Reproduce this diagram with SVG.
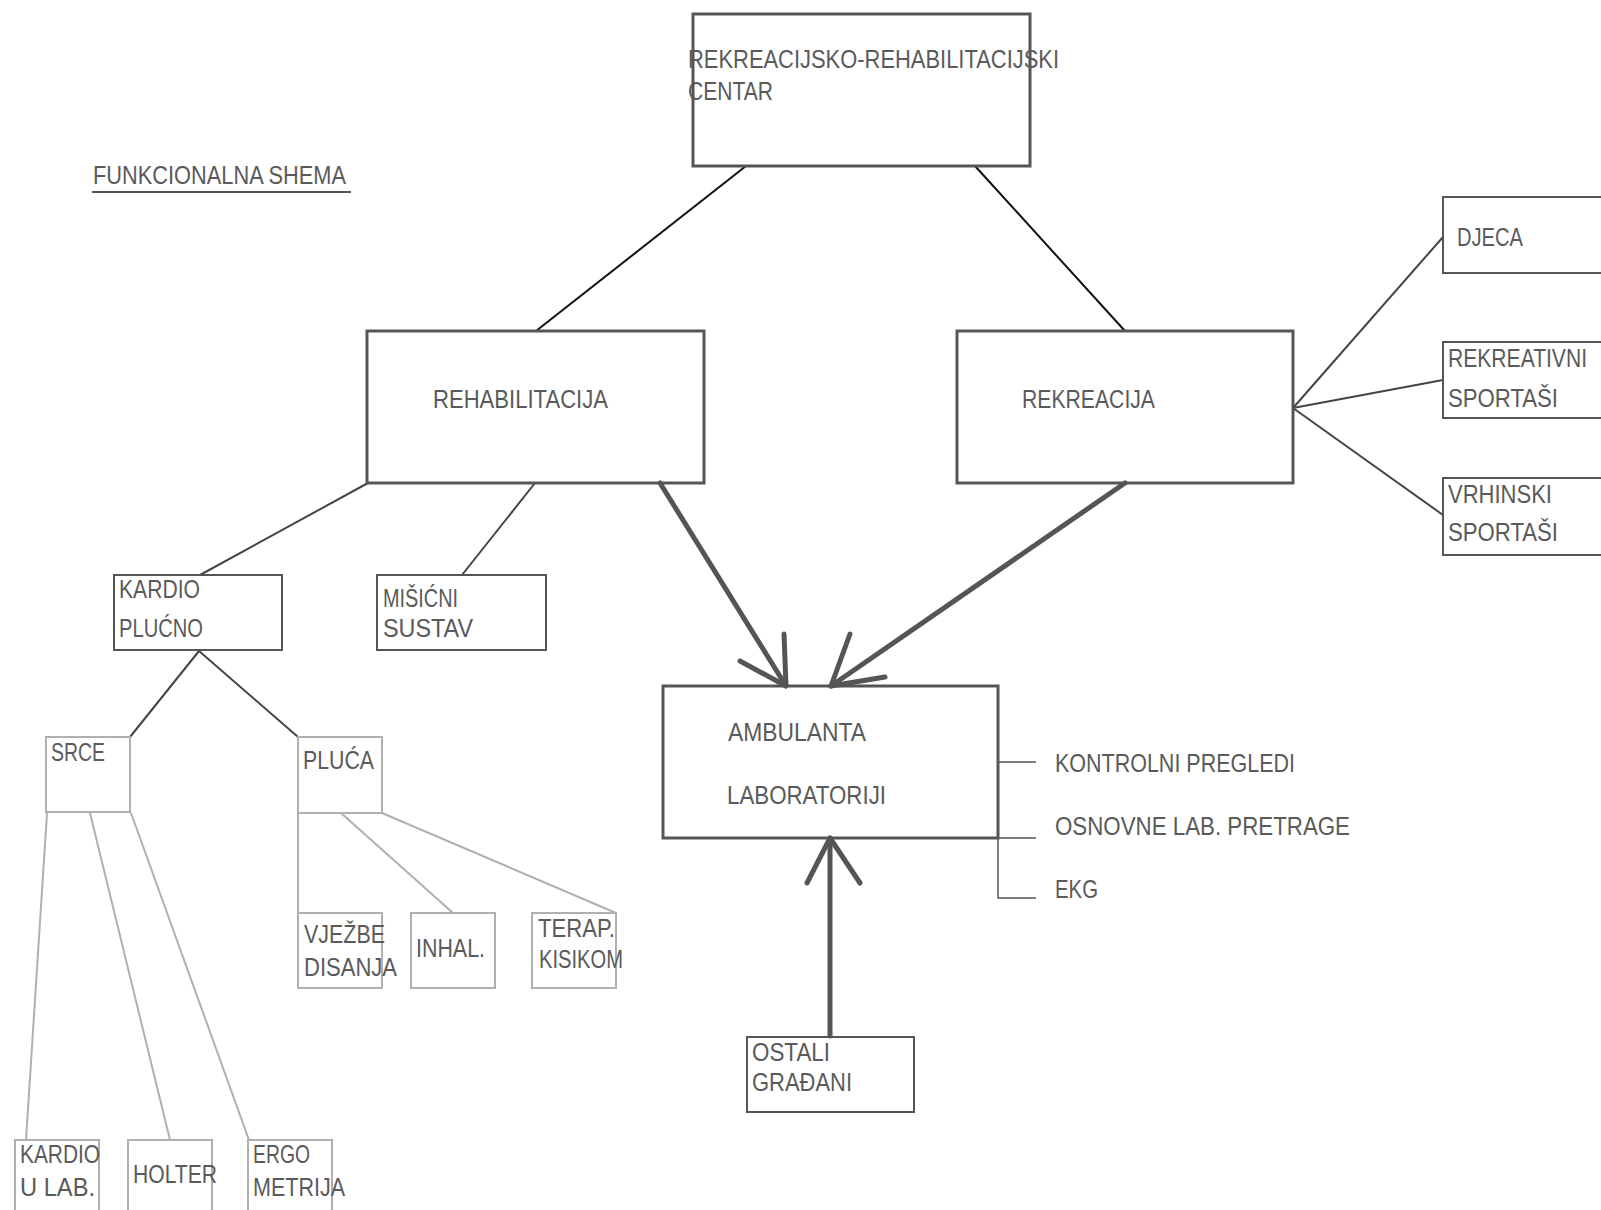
<svg xmlns="http://www.w3.org/2000/svg" width="1601" height="1210" viewBox="0 0 1601 1210">
<style>
text{font-family:"Liberation Sans",Arial,sans-serif;font-size:25px;fill:#5a5a5a}
.big{fill:none;stroke:#555;stroke-width:3}
.mid{fill:none;stroke:#555;stroke-width:2}
.light{fill:none;stroke:#b0b0b0;stroke-width:2}
.c-black{stroke:#111;stroke-width:2;fill:none}
.c-dark{stroke:#444;stroke-width:2;fill:none}
.c-grey{stroke:#b0b0b0;stroke-width:2;fill:none}
.c-thin{stroke:#555;stroke-width:1.5;fill:none}
.arrow{stroke:#555;stroke-width:5;fill:none;stroke-linecap:round;stroke-linejoin:round}
</style>
<rect width="1601" height="1210" fill="#fff"/>
<g id="connectors">
<line class="c-black" x1="746" y1="166" x2="536" y2="331"/>
<line class="c-black" x1="975" y1="166" x2="1125" y2="331"/>
<line class="c-dark" x1="1293" y1="408" x2="1443" y2="237"/>
<line class="c-dark" x1="1293" y1="408" x2="1443" y2="380"/>
<line class="c-dark" x1="1293" y1="408" x2="1443" y2="515"/>
<line class="c-dark" x1="368" y1="483" x2="200" y2="575"/>
<line class="c-dark" x1="535" y1="483" x2="462" y2="575"/>
<line class="c-dark" x1="199" y1="651" x2="130" y2="737"/>
<line class="c-dark" x1="199" y1="651" x2="298" y2="737"/>
<line class="c-grey" x1="298" y1="813" x2="298" y2="913"/>
<line class="c-grey" x1="341" y1="813" x2="453" y2="913"/>
<line class="c-grey" x1="382" y1="813" x2="616" y2="913"/>
<line class="c-grey" x1="47" y1="813" x2="26" y2="1140"/>
<line class="c-grey" x1="90" y1="813" x2="170" y2="1140"/>
<line class="c-grey" x1="131" y1="813" x2="249" y2="1140"/>
<line class="c-thin" x1="998" y1="762" x2="1036" y2="762"/>
<line class="c-thin" x1="998" y1="838" x2="1036" y2="838"/>
<polyline class="c-thin" points="998,838 998,898 1036,898"/>
<line class="arrow" x1="660" y1="483" x2="786" y2="686"/>
<polyline class="arrow" points="784,634 786,686 740,661"/>
<line class="arrow" x1="1125" y1="483" x2="831" y2="686"/>
<polyline class="arrow" points="850,634 831,686 885,677"/>
<line class="arrow" x1="830" y1="1036" x2="830" y2="838"/>
<polyline class="arrow" points="807,883 830,838 860,883"/>
</g>
<g id="title">
<text x="93" y="184" textLength="253" lengthAdjust="spacingAndGlyphs">FUNKCIONALNA SHEMA</text>
<line x1="92" y1="192" x2="351" y2="192" stroke="#555" stroke-width="2"/>
</g>
<g id="centar">
<rect class="big" x="693" y="14" width="337" height="152"/>
<text x="688" y="68" textLength="371" lengthAdjust="spacingAndGlyphs">REKREACIJSKO-REHABILITACIJSKI</text>
<text x="688" y="100" textLength="85" lengthAdjust="spacingAndGlyphs">CENTAR</text>
</g>
<g id="rehabilitacija">
<rect class="big" x="367" y="331" width="337" height="152"/>
<text x="433" y="408" textLength="175" lengthAdjust="spacingAndGlyphs">REHABILITACIJA</text>
</g>
<g id="rekreacija">
<rect class="big" x="957" y="331" width="336" height="152"/>
<text x="1022" y="408" textLength="133" lengthAdjust="spacingAndGlyphs">REKREACIJA</text>
</g>
<g id="djeca">
<rect class="mid" x="1443" y="197" width="170" height="76"/>
<text x="1457" y="246" textLength="66" lengthAdjust="spacingAndGlyphs">DJECA</text>
</g>
<g id="rekreativni">
<rect class="mid" x="1443" y="342" width="170" height="76"/>
<text x="1448" y="367" textLength="139" lengthAdjust="spacingAndGlyphs">REKREATIVNI</text>
<text x="1448" y="407" textLength="110" lengthAdjust="spacingAndGlyphs">SPORTAŠI</text>
</g>
<g id="vrhinski">
<rect class="mid" x="1443" y="478" width="170" height="77"/>
<text x="1448" y="503" textLength="104" lengthAdjust="spacingAndGlyphs">VRHINSKI</text>
<text x="1448" y="541" textLength="110" lengthAdjust="spacingAndGlyphs">SPORTAŠI</text>
</g>
<g id="kardioplucno">
<rect class="mid" x="114" y="575" width="168" height="75"/>
<text x="119" y="598" textLength="81" lengthAdjust="spacingAndGlyphs">KARDIO</text>
<text x="119" y="637" textLength="84" lengthAdjust="spacingAndGlyphs">PLUĆNO</text>
</g>
<g id="misicni">
<rect class="mid" x="377" y="575" width="169" height="75"/>
<text x="383" y="607" textLength="75" lengthAdjust="spacingAndGlyphs">MIŠIĆNI</text>
<text x="383" y="637" textLength="90" lengthAdjust="spacingAndGlyphs">SUSTAV</text>
</g>
<g id="srce">
<rect class="light" x="46" y="737" width="84" height="75"/>
<text x="51" y="761" textLength="54" lengthAdjust="spacingAndGlyphs">SRCE</text>
</g>
<g id="pluca">
<rect class="light" x="298" y="737" width="84" height="76"/>
<text x="303" y="769" textLength="71" lengthAdjust="spacingAndGlyphs">PLUĆA</text>
</g>
<g id="vjezbe">
<rect class="light" x="298" y="913" width="84" height="75"/>
<text x="304" y="943" textLength="81" lengthAdjust="spacingAndGlyphs">VJEŽBE</text>
<text x="304" y="976" textLength="93" lengthAdjust="spacingAndGlyphs">DISANJA</text>
</g>
<g id="inhal">
<rect class="light" x="411" y="913" width="84" height="75"/>
<text x="416" y="957" textLength="69" lengthAdjust="spacingAndGlyphs">INHAL.</text>
</g>
<g id="terap">
<rect class="light" x="532" y="913" width="84" height="75"/>
<text x="538" y="937" textLength="77" lengthAdjust="spacingAndGlyphs">TERAP.</text>
<text x="539" y="968" textLength="84" lengthAdjust="spacingAndGlyphs">KISIKOM</text>
</g>
<g id="kardiolab">
<rect class="light" x="15" y="1140" width="84" height="80"/>
<text x="20" y="1163" textLength="80" lengthAdjust="spacingAndGlyphs">KARDIO</text>
<text x="20" y="1196" textLength="75" lengthAdjust="spacingAndGlyphs">U LAB.</text>
</g>
<g id="holter">
<rect class="light" x="128" y="1140" width="84" height="80"/>
<text x="133" y="1183" textLength="84" lengthAdjust="spacingAndGlyphs">HOLTER</text>
</g>
<g id="ergometrija">
<rect class="light" x="248" y="1140" width="84" height="80"/>
<text x="253" y="1163" textLength="57" lengthAdjust="spacingAndGlyphs">ERGO</text>
<text x="253" y="1196" textLength="92" lengthAdjust="spacingAndGlyphs">METRIJA</text>
</g>
<g id="ambulanta">
<rect class="big" x="663" y="686" width="335" height="152"/>
<text x="728" y="741" textLength="138" lengthAdjust="spacingAndGlyphs">AMBULANTA</text>
<text x="727" y="804" textLength="159" lengthAdjust="spacingAndGlyphs">LABORATORIJI</text>
</g>
<g id="ambulanta-items">
<text x="1055" y="772" textLength="240" lengthAdjust="spacingAndGlyphs">KONTROLNI PREGLEDI</text>
<text x="1055" y="835" textLength="295" lengthAdjust="spacingAndGlyphs">OSNOVNE LAB. PRETRAGE</text>
<text x="1055" y="898" textLength="43" lengthAdjust="spacingAndGlyphs">EKG</text>
</g>
<g id="ostali">
<rect class="mid" x="747" y="1037" width="167" height="75"/>
<text x="752" y="1061" textLength="78" lengthAdjust="spacingAndGlyphs">OSTALI</text>
<text x="752" y="1091" textLength="100" lengthAdjust="spacingAndGlyphs">GRAĐANI</text>
</g>
</svg>
